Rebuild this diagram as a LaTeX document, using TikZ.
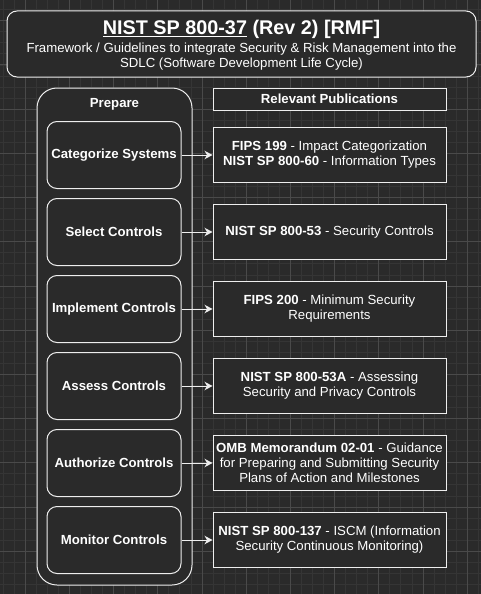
\documentclass[tikz,border=0pt]{standalone}
\usepackage{fontspec}
\setmainfont{Liberation Sans}
\usetikzlibrary{arrows.meta}

\definecolor{bgdark}{HTML}{2A2A2A}
\definecolor{gridminor}{HTML}{353535}
\definecolor{gridmajor}{HTML}{4A4A4A}
\definecolor{edgegray}{HTML}{EEEEEE}

\tikzset{
  box/.style={draw=edgegray, fill=bgdark, line width=1pt, inner sep=0pt},
  stepbox/.style={box, rounded corners=10pt, minimum width=134pt, minimum height=67pt, text=white, font=\fontsize{13.2}{15}\selectfont\bfseries},
  pubbox/.style={box, minimum width=233pt, minimum height=55pt, text=white, align=center, font=\fontsize{13.2}{15}\selectfont},
  link/.style={->, >={Stealth[length=8pt,width=8.5pt,inset=2.5pt]}, draw=edgegray, line width=1pt}
}

\begin{document}
\begin{tikzpicture}[x=1pt, y=-1pt]
    \useasboundingbox (0,0) rectangle (481,594);
    \fill[bgdark] (0,0) rectangle (481,594);
    % grid
    \foreach \i in {0,...,44} \draw[gridminor, line width=0.5pt] (2.9+11.05*\i,0) -- (2.9+11.05*\i,594);
    \foreach \i in {0,...,54} \draw[gridminor, line width=0.5pt] (0,9.55+11.05*\i) -- (481,9.55+11.05*\i);
    \foreach \i in {0,...,10} \draw[gridmajor, line width=0.6pt] (25+44.2*\i,0) -- (25+44.2*\i,594);
    \foreach \i in {0,...,13} \draw[gridmajor, line width=0.6pt] (0,20.6+44.2*\i) -- (481,20.6+44.2*\i);

    % title
    \node[box, rounded corners=10pt, minimum width=469pt, minimum height=66pt] (title) at (241.5,44) {};
    \node[text=white, font=\fontsize{19.8}{22}\selectfont\bfseries] (titletext) at (241.5,29.5) {\underline{NIST SP 800-37} (Rev 2) [RMF]};
    \node[text=white, align=center, font=\fontsize{13.2}{14.5}\selectfont] (subtitle) at (241.5,56.5) {Framework / Guidelines to integrate Security \& Risk Management into the\\SDLC (Software Development Life Cycle)};

    % prepare column
    \node[box, rounded corners=20pt, minimum width=155pt, minimum height=497pt] (prepare) at (114.5,336.5) {};
    \node[text=white, font=\fontsize{13.2}{15}\selectfont\bfseries] (preparetext) at (114.5,104.5) {Prepare};
    \node[box, minimum width=233pt, minimum height=22pt, text=white, font=\fontsize{13.2}{15}\selectfont\bfseries] (pubs) at (329.5,99) {Relevant Publications};

    % steps
    \node[stepbox] (cat) at (114,155) {Categorize Systems};
    \node[stepbox] (sel) at (114,232) {Select Controls};
    \node[stepbox] (imp) at (114,309) {Implement Controls};
    \node[stepbox] (ass) at (114,386) {Assess Controls};
    \node[stepbox] (aut) at (114,463) {Authorize Controls};
    \node[stepbox] (mon) at (114,540) {Monitor Controls};

    % publications
    \node[pubbox] (catpub) at (329.5,155) {\textbf{FIPS 199} - Impact Categorization\\\textbf{NIST SP 800-60} - Information Types};
    \node[pubbox] (selpub) at (329.5,232) {\textbf{NIST SP 800-53} - Security Controls};
    \node[pubbox] (imppub) at (329.5,309) {\textbf{FIPS 200} - Minimum Security\\Requirements};
    \node[pubbox] (asspub) at (329.5,386) {\textbf{NIST SP 800-53A} - Assessing\\Security and Privacy Controls};
    \node[pubbox] (autpub) at (329.5,463) {\textbf{OMB Memorandum 02-01} - Guidance\\for Preparing and Submitting Security\\Plans of Action and Milestones};
    \node[pubbox] (monpub) at (329.5,540) {\textbf{NIST SP 800-137} - ISCM (Information\\Security Continuous Monitoring)};

    \draw[link] (cat) -- (catpub);
    \draw[link] (sel) -- (selpub);
    \draw[link] (imp) -- (imppub);
    \draw[link] (ass) -- (asspub);
    \draw[link] (aut) -- (autpub);
    \draw[link] (mon) -- (monpub);
\end{tikzpicture}
\end{document}
